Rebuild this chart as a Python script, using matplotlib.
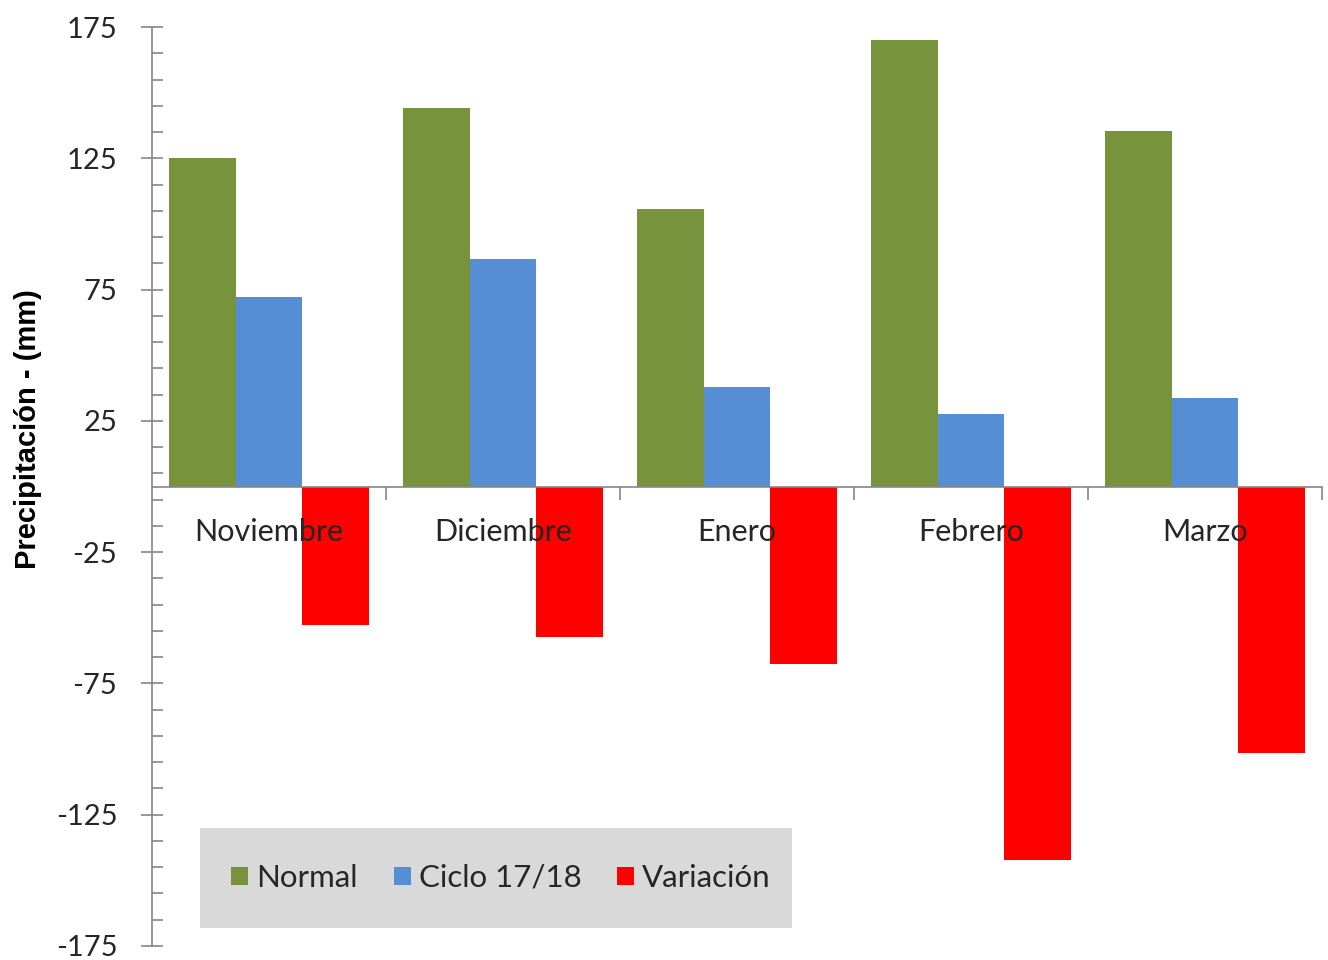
import matplotlib
matplotlib.use("Agg")
import matplotlib.pyplot as plt
from matplotlib.patches import Rectangle, Patch
import numpy as np

categories = ["Noviembre", "Diciembre", "Enero", "Febrero", "Marzo"]
normal = [125.0, 144.0, 105.5, 170.0, 135.3]
ciclo = [72.3, 86.5, 38.0, 27.7, 33.8]
variacion = [-52.7, -57.5, -67.5, -142.3, -101.5]
series_names = ["Normal", "Ciclo 17/18", "Variación"]
colors = ["#77933C", "#558ED5", "#FF0000"]
yticks = [175, 125, 75, 25, -25, -75, -125, -175]

W, H = 1328, 960
fig = plt.figure(figsize=(W / 100, H / 100), dpi=100)
fig.patch.set_facecolor("white")
ax = fig.add_axes([152 / W, 1 - 946 / H, (1322 - 152) / W, (946 - 27) / H])

x = np.arange(len(categories)) + 0.5
bw = 0.286
for i, (vals, col) in enumerate(zip([normal, ciclo, variacion], colors)):
    ax.bar(x + (i - 1) * bw, vals, width=bw, color=col, edgecolor="none", zorder=1)

ax.set_xlim(0, len(categories))
ax.set_ylim(-175, 175)

axcol = "#868686"
txtcol = "#262626"
for s in ["top", "right"]:
    ax.spines[s].set_visible(False)
ax.spines["left"].set_color(axcol)
ax.spines["left"].set_linewidth(1.2)
ax.spines["bottom"].set_position(("data", 0))
ax.spines["bottom"].set_color(axcol)
ax.spines["bottom"].set_linewidth(1.2)

ax.set_yticks(yticks)
ax.set_yticklabels([str(v) for v in yticks])
ax.set_yticks(np.arange(-175, 176, 10), minor=True)
ax.tick_params(axis="y", which="major", direction="inout", length=16, width=1.2,
               color=axcol, labelsize=21, labelcolor=txtcol, pad=17)
ax.tick_params(axis="y", which="minor", direction="in", length=8, width=1.2, color=axcol)
for t in ax.get_yticklabels():
    t.set_fontfamily("Lato")

ax.set_xticks(np.arange(1, len(categories) + 1))
ax.set_xticklabels([])
ax.set_xticks(x, minor=True)
ax.set_xticklabels(categories, minor=True)
ax.tick_params(axis="x", which="major", direction="out", length=9, width=1.2, color=axcol)
ax.tick_params(axis="x", which="minor", length=0, labelsize=22, labelcolor=txtcol, pad=23)
for t in ax.get_xticklabels(minor=True):
    t.set_fontfamily("Lato")

fig.text(28 / W, 1 - 429 / H, "Precipitación - (mm)", rotation=90, ha="center", va="center",
         fontsize=21, fontweight="bold", family="Liberation Sans", color="black")

# legend box
fig.patches.append(Rectangle((200 / W, 1 - 928 / H), (792 - 200) / W, (928 - 828) / H,
                             transform=fig.transFigure, facecolor="#D9D9D9", edgecolor="none", zorder=4))
handles = [Patch(facecolor=c, edgecolor="none") for c in colors]
leg = fig.legend(handles, series_names, loc="center", bbox_to_anchor=(501 / W, 1 - 878 / H),
                 ncol=3, frameon=False, prop={"family": "Lato", "size": 22.5},
                 handlelength=0.55, handleheight=0.55, handletextpad=0.25, columnspacing=1.15)
for t in leg.get_texts():
    t.set_color(txtcol)
leg.set_zorder(6)

fig.savefig("out.png", dpi=100)
